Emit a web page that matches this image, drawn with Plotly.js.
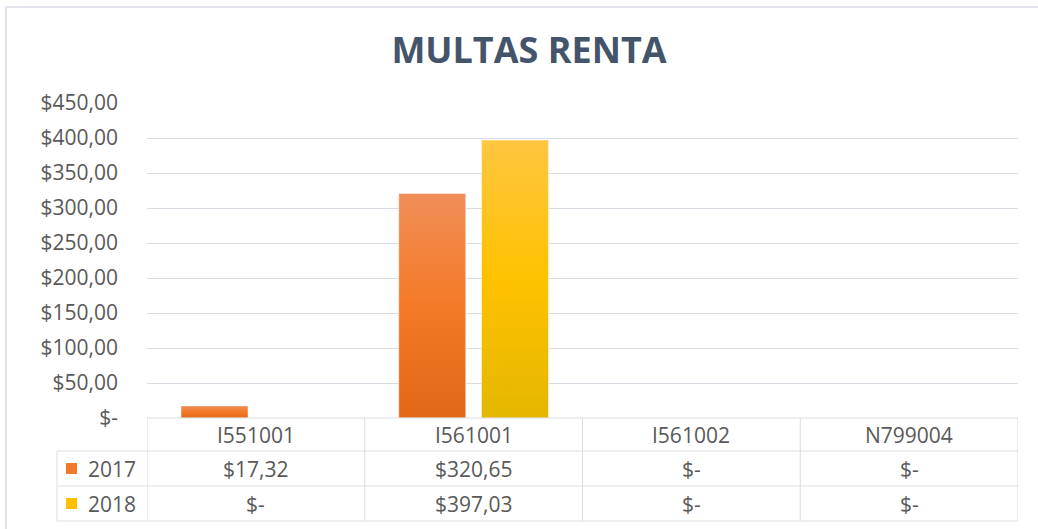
<!DOCTYPE html>
<html>
<head>
<meta charset="utf-8">
<script src="https://cdn.plot.ly/plotly-3.0.1.min.js"></script>
<style>
  html, body { margin: 0; padding: 0; background: #ffffff; }
  #chart { width: 1038px; height: 529px; }
</style>
</head>
<body>
<div id="chart"></div>
<script>
// ---- data ----
const categories = ['I551001', 'I561001', 'I561002', 'N799004'];
const seriesNames = ['2017', '2018'];
const values2017 = [17.32, 320.65, 0, 0];
const values2018 = [0, 397.03, 0, 0];
const yTickVals = [0, 50, 100, 150, 200, 250, 300, 350, 400, 450];

// ---- helpers ----
function money(v) {
  if (v === 0) return '$-';
  return '$' + v.toFixed(2).replace('.', ',');
}

const textColor = '#595959';
const lineColor = '#D9DDE3';
const font = 'Open Sans, Lato, Roboto, sans-serif';
const fs = 21;
const seriesColors = ['#F07A2A', '#FFC000'];
const seriesValues = [values2017, values2018];

const traces = seriesValues.map((vals, i) => ({
  type: 'bar',
  name: seriesNames[i],
  x: categories,
  y: vals,
  marker: { color: seriesColors[i], line: { width: 0 } },
  hoverinfo: 'x+y+name'
}));

// table geometry (paper coords, plot area = 147..1018 px, 103..418 px)
const pxX = px => (px - 147) / 871;
const pxY = py => (418 - py) / 315;

const shapes = [];
const annotations = [];

// outer chart border (left + top)
shapes.push({ type: 'line', xref: 'paper', yref: 'paper', x0: pxX(6), x1: pxX(6), y0: pxY(7), y1: pxY(535), line: { color: '#E1E4EA', width: 2 } });
shapes.push({ type: 'line', xref: 'paper', yref: 'paper', x0: pxX(5), x1: pxX(1040), y0: pxY(7), y1: pxY(7), line: { color: '#E1E4EA', width: 2 } });

// table top line (axis baseline)
shapes.push({ type: 'line', xref: 'x', yref: 'paper', x0: -0.5, x1: categories.length - 0.5, y0: 0, y1: 0, line: { color: lineColor, width: 1 } });
// row lines
[pxY(451), pxY(486), pxY(521)].forEach(y => {
  shapes.push({ type: 'line', xref: 'paper', yref: 'paper', x0: pxX(57), x1: 1, y0: y, y1: y, line: { color: lineColor, width: 1 } });
});
// vertical lines between category columns
for (let i = 0; i <= categories.length; i++) {
  shapes.push({ type: 'line', xref: 'x', yref: 'paper', x0: i - 0.5, x1: i - 0.5, y0: 0, y1: pxY(521), line: { color: lineColor, width: 1 } });
}
// left legend column line
shapes.push({ type: 'line', xref: 'paper', yref: 'paper', x0: pxX(57), x1: pxX(57), y0: pxY(451), y1: pxY(521), line: { color: lineColor, width: 1 } });

// header row: category names
categories.forEach((c, i) => {
  annotations.push({ xref: 'x', yref: 'paper', x: i, y: pxY(434.5), text: c, showarrow: false, xanchor: 'center', yanchor: 'middle', font: { family: font, size: fs, color: textColor } });
});

// series rows
const rowCenters = [468.5, 503.5];
seriesValues.forEach((vals, s) => {
  const yc = rowCenters[s];
  shapes.push({ type: 'rect', xref: 'paper', yref: 'paper', x0: pxX(66), x1: pxX(77), y0: pxY(yc - 5.5), y1: pxY(yc + 5.5), fillcolor: seriesColors[s], line: { width: 0 } });
  annotations.push({ xref: 'paper', yref: 'paper', x: pxX(86), y: pxY(yc), text: seriesNames[s], showarrow: false, xanchor: 'left', yanchor: 'middle', font: { family: font, size: fs, color: textColor } });
  vals.forEach((v, i) => {
    annotations.push({ xref: 'x', yref: 'paper', x: i, y: pxY(yc), text: money(v), showarrow: false, xanchor: 'center', yanchor: 'middle', font: { family: font, size: fs, color: textColor } });
  });
});

const layout = {
  width: 1038,
  height: 529,
  margin: { l: 147, r: 20, t: 103, b: 111 },
  paper_bgcolor: '#ffffff',
  plot_bgcolor: '#ffffff',
  showlegend: false,
  title: {
    text: '<b>MULTAS RENTA</b>',
    x: 529 / 1038,
    xanchor: 'center',
    y: 1 - 50 / 529,
    yanchor: 'middle',
    font: { family: font, size: 36, color: '#44546A' }
  },
  bargap: 0.24,
  bargroupgap: 0.19,
  barmode: 'group',
  xaxis: {
    type: 'category',
    range: [-0.5, categories.length - 0.5],
    showticklabels: false,
    showgrid: false,
    zeroline: false,
    showline: false,
    ticks: ''
  },
  yaxis: {
    range: [0, 450],
    tickvals: yTickVals,
    ticktext: yTickVals.map(money),
    showgrid: true,
    gridcolor: lineColor,
    gridwidth: 1,
    zeroline: false,
    showline: false,
    ticks: '',
    ticklabelstandoff: 28,
    tickfont: { family: font, size: fs, color: textColor }
  },
  shapes: shapes,
  annotations: annotations
};

const gradients = [
  [[0, 'rgb(240,142,88)'], [0.5, 'rgb(244,122,38)'], [1, 'rgb(226,104,24)']],
  [[0, 'rgb(255,198,64)'], [0.5, 'rgb(255,194,0)'], [1, 'rgb(228,182,0)']]
];

function applyGradients(gd) {
  const svg = gd.querySelector('svg.main-svg');
  if (!svg) return;
  let defs = svg.querySelector('defs');
  if (!defs) { defs = document.createElementNS('http://www.w3.org/2000/svg', 'defs'); svg.insertBefore(defs, svg.firstChild); }
  gradients.forEach((stops, i) => {
    const id = 'barGrad' + i;
    if (!document.getElementById(id)) {
      const lg = document.createElementNS('http://www.w3.org/2000/svg', 'linearGradient');
      lg.setAttribute('id', id);
      lg.setAttribute('x1', '0'); lg.setAttribute('y1', '0');
      lg.setAttribute('x2', '0'); lg.setAttribute('y2', '1');
      stops.forEach(([o, c]) => {
        const st = document.createElementNS('http://www.w3.org/2000/svg', 'stop');
        st.setAttribute('offset', String(o));
        st.setAttribute('stop-color', c);
        lg.appendChild(st);
      });
      defs.appendChild(lg);
    }
  });
  const traceGroups = gd.querySelectorAll('.barlayer .trace');
  traceGroups.forEach((tg, i) => {
    tg.querySelectorAll('.point path').forEach(p => {
      p.style.fill = 'url(#barGrad' + (i % gradients.length) + ')';
      p.style.stroke = 'rgba(255,255,255,0.45)';
      p.style.strokeWidth = '1px';
    });
  });
}

const gd = document.getElementById('chart');
Plotly.newPlot(gd, traces, layout, { displayModeBar: false, staticPlot: true }).then(() => applyGradients(gd));
</script>
</body>
</html>
